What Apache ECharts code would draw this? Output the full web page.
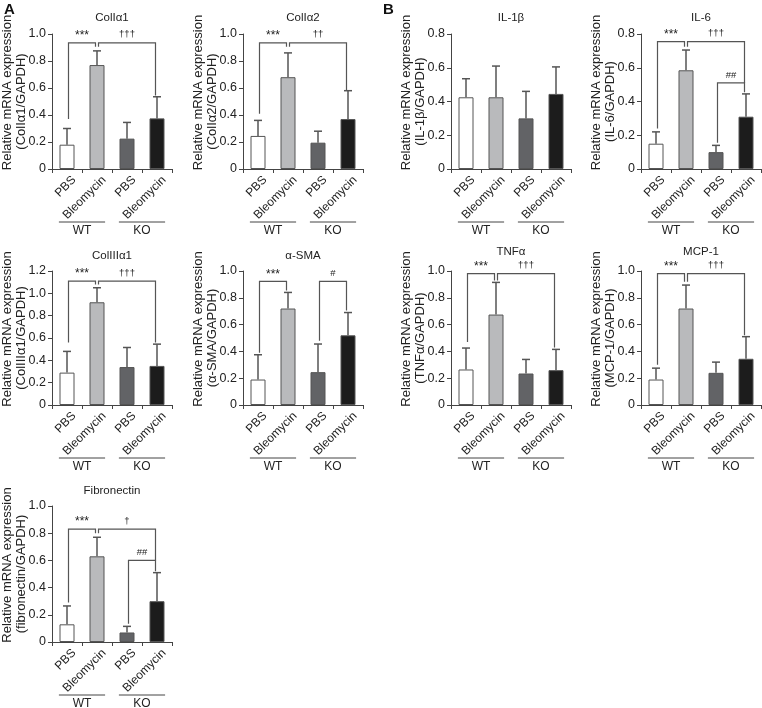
<!DOCTYPE html>
<html><head><meta charset="utf-8">
<script src="https://cdn.jsdelivr.net/npm/echarts@6/dist/echarts.min.js"></script>
<style>html,body{margin:0;padding:0;background:#fff}#c{width:762px;height:708px}</style>
</head><body><div id="c"></div>
<script>
// ---------- data ----------
const categories = ['PBS', 'Bleomycin', 'PBS', 'Bleomycin'];
const groups = ['WT', 'KO'];
const groupMembers = [[0, 1], [2, 3]];
const yTicks = [0, 0.2, 0.4, 0.6, 0.8, 1.0, 1.2];

const col1a1Mean = [0.18, 0.77, 0.225, 0.375];
const col1a1High = [0.30, 0.875, 0.345, 0.535];
const col1a2Mean = [0.245, 0.68, 0.195, 0.37];
const col1a2High = [0.36, 0.86, 0.28, 0.58];
const il1bMean = [0.425, 0.425, 0.30, 0.445];
const il1bHigh = [0.535, 0.61, 0.46, 0.605];
const il6Mean = [0.15, 0.585, 0.10, 0.31];
const il6High = [0.22, 0.705, 0.14, 0.445];
const col3a1Mean = [0.29, 0.92, 0.34, 0.35];
const col3a1High = [0.48, 1.05, 0.515, 0.545];
const asmaMean = [0.19, 0.72, 0.245, 0.52];
const asmaHigh = [0.375, 0.84, 0.455, 0.69];
const tnfaMean = [0.265, 0.675, 0.235, 0.26];
const tnfaHigh = [0.425, 0.915, 0.34, 0.415];
const mcp1Mean = [0.19, 0.72, 0.24, 0.345];
const mcp1High = [0.275, 0.895, 0.32, 0.51];
const fnMean = [0.13, 0.63, 0.07, 0.30];
const fnHigh = [0.265, 0.77, 0.115, 0.51];

// significance brackets: [fromIndex, toIndex, level, leftLegEnd, rightLegEnd, mark]
const col1a1Sig = [[0, 1, 0.935, 0.37, 0.905, '***'], [1, 3, 0.935, 0.905, 0.545, '†††']];
const col1a2Sig = [[0, 1, 0.935, 0.41, 0.905, '***'], [1, 3, 0.935, 0.905, 0.585, '††']];
const il1bSig = [];
const il6Sig = [[0, 1, 0.755, 0.24, 0.725, '***'], [1, 3, 0.755, 0.725, 0.51, '†††'], [2, 3, 0.51, 0.155, 0.455, '##']];
const col3a1Sig = [[0, 1, 1.11, 0.56, 1.08, '***'], [1, 3, 1.11, 1.08, 0.56, '†††']];
const asmaSig = [[0, 1, 0.923, 0.39, 0.855, '***'], [2, 3, 0.923, 0.48, 0.705, '#']];
const tnfaSig = [[0, 1, 0.98, 0.47, 0.93, '***'], [1, 3, 0.98, 0.93, 0.43, '†††']];
const mcp1Sig = [[0, 1, 0.98, 0.30, 0.92, '***'], [1, 3, 0.98, 0.92, 0.52, '†††']];
const fnSig = [[0, 1, 0.83, 0.29, 0.80, '***'], [1, 3, 0.83, 0.80, 0.60, '†'], [2, 3, 0.60, 0.135, 0.52, '##']];

const panels = [
  { title: 'ColIα1', yname: '(ColIα1/GAPDH)', max: 1.0, mean: col1a1Mean, high: col1a1High, sig: col1a1Sig, row: 0, col: 0 },
  { title: 'ColIα2', yname: '(ColIα2/GAPDH)', max: 1.0, mean: col1a2Mean, high: col1a2High, sig: col1a2Sig, row: 0, col: 1 },
  { title: 'IL-1β', yname: '(IL-1β/GAPDH)', max: 0.8, mean: il1bMean, high: il1bHigh, sig: il1bSig, row: 0, col: 2 },
  { title: 'IL-6', yname: '(IL-6/GAPDH)', max: 0.8, mean: il6Mean, high: il6High, sig: il6Sig, row: 0, col: 3 },
  { title: 'ColIIIα1', yname: '(ColIIIα1/GAPDH)', max: 1.2, mean: col3a1Mean, high: col3a1High, sig: col3a1Sig, row: 1, col: 0 },
  { title: 'α-SMA', yname: '(α-SMA/GAPDH)', max: 1.0, mean: asmaMean, high: asmaHigh, sig: asmaSig, row: 1, col: 1 },
  { title: 'TNFα', yname: '(TNFα/GAPDH)', max: 1.0, mean: tnfaMean, high: tnfaHigh, sig: tnfaSig, row: 1, col: 2 },
  { title: 'MCP-1', yname: '(MCP-1/GAPDH)', max: 1.0, mean: mcp1Mean, high: mcp1High, sig: mcp1Sig, row: 1, col: 3 },
  { title: 'Fibronectin', yname: '(fibronectin/GAPDH)', max: 1.0, mean: fnMean, high: fnHigh, sig: fnSig, row: 2, col: 0 }
];

// ---------- layout & style ----------
const FONT = '"Liberation Sans", Arial, Helvetica, sans-serif';
const colLeft = [52, 243, 451, 641];
const rowTop = [34, 271, 506];
const rowH = [135, 134, 136];
const titleCenterY = [[19, 19, 19, 19], [257, 257, 253, 253], [492]];
const plotW = 120;
const barColors = ['#ffffff', '#b9babc', '#626366', '#1c1c1c'];
const lineCol = '#555';
const axisCol = '#444';
const textCol = '#222';

const option = {
  animation: false,
  backgroundColor: '#fff',
  textStyle: { fontFamily: FONT },
  title: [
    { text: 'A', left: 4, top: 2, padding: 0, textStyle: { fontSize: 15, fontWeight: 'bold', color: '#111', fontFamily: FONT } },
    { text: 'B', left: 383, top: 2, padding: 0, textStyle: { fontSize: 15, fontWeight: 'bold', color: '#111', fontFamily: FONT } }
  ],
  grid: [], xAxis: [], yAxis: [], series: []
};

panels.forEach((p, i) => {
  const left = colLeft[p.col], top = rowTop[p.row];
  option.grid.push({ left: left, top: top, width: plotW, height: rowH[p.row], outerBoundsMode: 'none', containLabel: false });
  option.title.push({
    text: p.title, left: left + plotW / 2, top: titleCenterY[p.row][p.col] - 7, textAlign: 'center', padding: 0,
    textStyle: { fontSize: 11.5, fontWeight: 'normal', color: textCol, fontFamily: FONT }
  });
  option.xAxis.push({
    type: 'category', gridIndex: i, data: categories,
    axisLine: { show: true, lineStyle: { color: axisCol, width: 1 } },
    axisTick: { show: true, length: 4, alignWithLabel: false, lineStyle: { color: axisCol } },
    axisLabel: { rotate: 45, interval: 0, fontSize: 12, color: textCol, margin: 2, verticalAlign: 'top', padding: [4, 0, 0, 0], fontFamily: FONT },
    splitLine: { show: false }
  });
  option.yAxis.push({
    type: 'value', gridIndex: i, min: 0, max: p.max, interval: 0.2,
    splitLine: { show: false },
    axisLine: { show: true, lineStyle: { color: axisCol, width: 1 } },
    axisTick: { show: true, length: 4, lineStyle: { color: axisCol } },
    axisLabel: {
      fontSize: 12.5, color: textCol, margin: 6, fontFamily: FONT,
      formatter: v => { const t = yTicks.find(x => Math.abs(x - v) < 1e-6); return t === 0 ? '0' : (t !== undefined ? t.toFixed(1) : ''); }
    },
    name: '     Relative mRNA expression\n' + p.yname,
    nameLocation: 'middle', nameGap: 24, nameMoveOverlap: false,
    nameTextStyle: { fontSize: 13, lineHeight: 14, color: textCol, fontFamily: FONT }
  });
  // bars
  option.series.push({
    type: 'bar', xAxisIndex: i, yAxisIndex: i, barWidth: '50%',
    data: p.mean.map((v, k) => ({ value: v, itemStyle: { color: barColors[k] } })),
    itemStyle: { borderColor: lineCol, borderWidth: 1 },
    z: 2
  });
  // error bars (upper only)
  option.series.push({
    type: 'custom', xAxisIndex: i, yAxisIndex: i, clip: false, z: 3,
    data: p.mean.map((v, k) => [k, v, p.high[k]]),
    encode: { x: 0, y: [1, 2] },
    renderItem: (params, api) => {
      const a = api.coord([api.value(0), api.value(1)]);
      const b = api.coord([api.value(0), api.value(2)]);
      const cap = 4;
      return { type: 'group', children: [
        { type: 'line', shape: { x1: a[0], y1: a[1], x2: b[0], y2: b[1] }, style: { stroke: lineCol, lineWidth: 1.5 } },
        { type: 'line', shape: { x1: b[0] - cap, y1: b[1], x2: b[0] + cap, y2: b[1] }, style: { stroke: lineCol, lineWidth: 1.5 } }
      ] };
    }
  });
  // significance brackets
  if (p.sig.length) {
    const sig = p.sig;
    option.series.push({
      type: 'custom', xAxisIndex: i, yAxisIndex: i, clip: false, z: 4,
      data: sig.map(s => [s[0], s[1], s[2], s[3], s[4]]),
      encode: { x: [0, 1], y: [2, 3, 4] },
      renderItem: (params, api) => {
        const s = sig[params.dataIndex];
        const inset = 1.5;
        const L = api.coord([s[0], s[2]]), R = api.coord([s[1], s[2]]);
        const Le = api.coord([s[0], s[3]]), Re = api.coord([s[1], s[4]]);
        const xl = L[0] + inset, xr = R[0] - inset, y = L[1];
        const dagger = s[5].indexOf('*') < 0;
        return { type: 'group', children: [
          { type: 'polyline', shape: { points: [[xl, Le[1]], [xl, y], [xr, y], [xr, Re[1]]] }, style: { stroke: lineCol, lineWidth: 1.2, fill: null } },
          { type: 'text', x: (xl + xr) / 2, y: y - (dagger ? 3 : 1), style: { text: s[5], fill: textCol, fontSize: dagger ? 9.5 : 12, align: 'center', verticalAlign: 'bottom', fontFamily: FONT } }
        ] };
      }
    });
  }
  // group lines and labels (WT / KO)
  option.series.push({
    type: 'custom', xAxisIndex: i, yAxisIndex: i, clip: false, z: 4,
    data: groupMembers.map(g => [g[0], g[1], 0]),
    encode: { x: [0, 1], y: 2 },
    renderItem: (params, api) => {
      const a = api.coord([api.value(0), 0]), b = api.coord([api.value(1), 0]);
      const bw = api.size([1, 0])[0];
      const x1 = a[0] - bw * 0.27, x2 = b[0] + bw * 0.27, y = a[1] + 53;
      return { type: 'group', children: [
        { type: 'line', shape: { x1: x1, y1: y, x2: x2, y2: y }, style: { stroke: axisCol, lineWidth: 1 } },
        { type: 'text', x: (x1 + x2) / 2, y: y + 3, style: { text: groups[params.dataIndex], fill: textCol, fontSize: 12, align: 'center', verticalAlign: 'top', fontFamily: FONT } }
      ] };
    }
  });
});

const chart = echarts.init(document.getElementById('c'), null, { renderer: 'canvas' });
chart.setOption(option);
</script>
</body></html>
